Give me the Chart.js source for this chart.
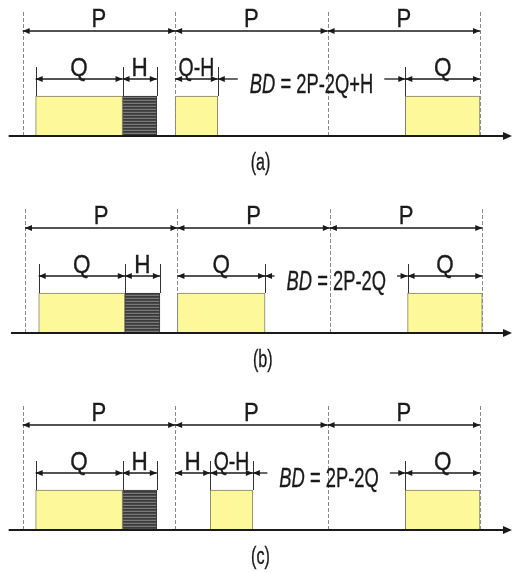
<!DOCTYPE html>
<html>
<head>
<meta charset="utf-8">
<script src="https://cdn.jsdelivr.net/npm/chart.js@4/dist/chart.umd.min.js"></script>
<style>
  html, body { margin: 0; padding: 0; background: #ffffff; }
  #wrap { width: 513px; height: 573px; position: relative; }
</style>
</head>
<body>
<div id="wrap"><canvas id="c" width="513" height="573"></canvas></div>
<script>
// ---------------- DATA (time units, one period P = 10) ----------------
const panelLabels = ['(a)', '(b)', '(c)'];
const periodEdges = [0, 10, 20, 30];
const periodLabel = 'P';

// yellow (served) blocks per panel: [start, end]
const yellowA = [[0.85, 6.55], [10, 12.8], [25.1, 30]];
const yellowB = [[0.9, 6.55], [10, 15.75], [25.1, 30]];
const yellowC = [[0.85, 6.55], [12.3, 15.1], [25.1, 30]];
// hatched (H) blocks per panel
const hatchA = [[6.55, 8.8]];
const hatchB = [[6.55, 8.85]];
const hatchC = [[6.55, 8.8]];
// dimension arrows per panel: [start, end, label]
const dimsA = [[0.85, 6.55, 'Q'], [6.55, 8.8, 'H'], [10, 12.8, 'Q-H'], [25.1, 30, 'Q']];
const dimsB = [[0.9, 6.55, 'Q'], [6.55, 8.85, 'H'], [10, 15.75, 'Q'], [25.1, 30, 'Q']];
const dimsC = [[0.85, 6.55, 'Q'], [6.55, 8.8, 'H'], [10, 12.3, 'H'], [12.3, 15.1, 'Q-H'], [25.1, 30, 'Q']];
// blackout-duration gap per panel and its formula
const bdGapA = [12.8, 25.1];
const bdGapB = [15.75, 25.1];
const bdGapC = [15.1, 25.1];
const bdTextA = ' = 2P-2Q+H';
const bdTextB = ' = 2P-2Q';
const bdTextC = ' = 2P-2Q';
const bdPrefix = 'BD';
const axisStart = -0.92;

// ---------------- LAYOUT / STYLE ----------------
const SHIFT = [0, 0.15, 0];          // small horizontal offset of each panel drawing
const FONT = '"Liberation Sans", Arial, "DejaVu Sans", sans-serif';

const panels = [
  { yellow: yellowA, hatch: hatchA, dims: dimsA, gap: bdGapA, bd: bdTextA },
  { yellow: yellowB, hatch: hatchB, dims: dimsB, gap: bdGapB, bd: bdTextB },
  { yellow: yellowC, hatch: hatchC, dims: dimsC, gap: bdGapC, bd: bdTextC }
];

// hatch pattern
const pc = document.createElement('canvas');
pc.width = 4; pc.height = 3;
const pg = pc.getContext('2d');
pg.fillStyle = '#4a4a4a'; pg.fillRect(0, 0, 4, 3);
pg.fillStyle = '#7a7a7a'; pg.fillRect(0, 1, 4, 1);
pg.fillStyle = '#3a3a3a'; pg.fillRect(0, 2, 4, 1);
const hatchPattern = pg.createPattern(pc, 'repeat');

function toBars(key) {
  const out = [];
  panels.forEach((p, i) => {
    p[key].forEach(([s, e]) => out.push({ y: panelLabels[i], x: [s + SHIFT[i], e + SHIFT[i]] }));
  });
  return out;
}

function arrowHead(ctx, x, y, dir) {
  ctx.beginPath();
  ctx.moveTo(x, y);
  ctx.lineTo(x - dir * 7, y - 3);
  ctx.lineTo(x - dir * 7, y + 3);
  ctx.closePath();
  ctx.fill();
}
function hline(ctx, x1, x2, y) {
  ctx.beginPath(); ctx.moveTo(x1, y); ctx.lineTo(x2, y); ctx.stroke();
}
function vline(ctx, x, y1, y2) {
  ctx.beginPath(); ctx.moveTo(x, y1); ctx.lineTo(x, y2); ctx.stroke();
}
function dim(ctx, x1, x2, y) {
  hline(ctx, x1, x2, y);
  arrowHead(ctx, x1, y, -1);
  arrowHead(ctx, x2, y, 1);
}
function label(ctx, str, cx, base, size, sx, italic) {
  ctx.save();
  ctx.font = (italic ? 'italic ' : '') + size + 'px ' + FONT;
  ctx.textAlign = 'center';
  ctx.textBaseline = 'alphabetic';
  ctx.translate(cx, base);
  ctx.scale(sx, 1);
  ctx.fillText(str, 0, 0);
  ctx.lineWidth = 0.35;
  ctx.strokeStyle = ctx.fillStyle;
  ctx.strokeText(str, 0, 0);
  ctx.restore();
}

const overlay = {
  id: 'overlay',
  afterDatasetsDraw(chart) {
    const ctx = chart.ctx;
    const xs = chart.scales.x, ys = chart.scales.y;
    panels.forEach((pn, i) => {
      const cy = ys.getPixelForValue(i);
      const X = t => xs.getPixelForValue(t + SHIFT[i]);
      const base = cy + 20;
      ctx.save();
      // dashed period lines
      ctx.strokeStyle = '#8a8a8a';
      ctx.lineWidth = 1;
      ctx.setLineDash([4, 2]);
      periodEdges.forEach(t => vline(ctx, Math.round(X(t)) + 0.5, cy - 104, base));
      ctx.setLineDash([]);

      ctx.strokeStyle = '#1a1a1a';
      ctx.fillStyle = '#1a1a1a';
      // baseline axis with arrow
      ctx.lineWidth = 2;
      const xEnd = chart.chartArea.right - 1;
      hline(ctx, X(axisStart), xEnd - 4, base);
      ctx.beginPath();
      ctx.moveTo(xEnd, base); ctx.lineTo(xEnd - 9, base - 4); ctx.lineTo(xEnd - 9, base + 4); ctx.closePath(); ctx.fill();

      // P dimension arrows
      ctx.lineWidth = 1.3;
      const pY = cy - 85;
      for (let k = 0; k < periodEdges.length - 1; k++) {
        const a = X(periodEdges[k]), b = X(periodEdges[k + 1]);
        dim(ctx, a, b, pY);
        label(ctx, periodLabel, (a + b) / 2, pY - 4, 26, 0.85, false);
      }

      // extension lines
      const qY = cy - 37;
      ctx.lineWidth = 1;
      ctx.strokeStyle = '#333';
      const ext = new Set();
      pn.dims.forEach(([s, e]) => { ext.add(s); ext.add(e); });
      ext.forEach(t => {
        if (!periodEdges.includes(t)) vline(ctx, Math.round(X(t)) + 0.5, cy - 49, cy - 20);
      });

      // Q / H dimension arrows
      ctx.strokeStyle = '#1a1a1a';
      ctx.lineWidth = 1.3;
      pn.dims.forEach(([s, e, lab]) => {
        const a = X(s), b = X(e);
        dim(ctx, a, b, qY);
        label(ctx, lab, (a + b) / 2, qY - 3, 25, lab.length > 1 ? 0.78 : 0.9, false);
      });

      // BD formula with arrows
      const gL = X(pn.gap[0]), gR = X(pn.gap[1]);
      const size = 27, sx = 0.68;
      ctx.font = 'italic ' + size + 'px ' + FONT;
      const w1 = ctx.measureText(bdPrefix).width * sx;
      ctx.font = size + 'px ' + FONT;
      const w2 = ctx.measureText(pn.bd).width * sx;
      const wt = w1 + w2;
      const cx = (gL + gR) / 2;
      const tL = cx - wt / 2, tR = cx + wt / 2;
      hline(ctx, gL, tL - 12, qY);
      arrowHead(ctx, gL, qY, -1);
      hline(ctx, tR + 11, gR, qY);
      arrowHead(ctx, gR, qY, 1);
      label(ctx, bdPrefix, tL + w1 / 2, qY + 14, size, sx, true);
      label(ctx, pn.bd, tL + w1 + w2 / 2, qY + 14, size, sx, false);

      // panel caption
      label(ctx, panelLabels[i], X(15.6), cy + 54, 23, 0.7, false);
      ctx.restore();
    });
  }
};

const pxPerUnit = 15.243;
const xMin = -22.7 / pxPerUnit;
const xMax = xMin + 513 / pxPerUnit;

new Chart(document.getElementById('c'), {
  type: 'bar',
  data: {
    labels: panelLabels,
    datasets: [
      {
        label: 'Q',
        data: toBars('yellow'),
        backgroundColor: '#fdf99a',
        borderColor: '#7f7f6c',
        borderWidth: 1,
        borderSkipped: false,
        barThickness: 40,
        clip: false
      },
      {
        label: 'H',
        data: toBars('hatch'),
        backgroundColor: hatchPattern,
        borderColor: '#3a3a3a',
        borderWidth: 1,
        borderSkipped: false,
        barThickness: 40,
        clip: false
      }
    ]
  },
  options: {
    indexAxis: 'y',
    responsive: false,
    devicePixelRatio: 1,
    animation: false,
    layout: { padding: { top: 116, bottom: 63, left: 0, right: 0 } },
    plugins: { legend: { display: false }, tooltip: { enabled: false } },
    datasets: { bar: { grouped: false } },
    scales: {
      x: { type: 'linear', min: xMin, max: xMax, display: false },
      y: { type: 'category', offset: false, display: false }
    }
  },
  plugins: [overlay]
});
</script>
</body>
</html>
